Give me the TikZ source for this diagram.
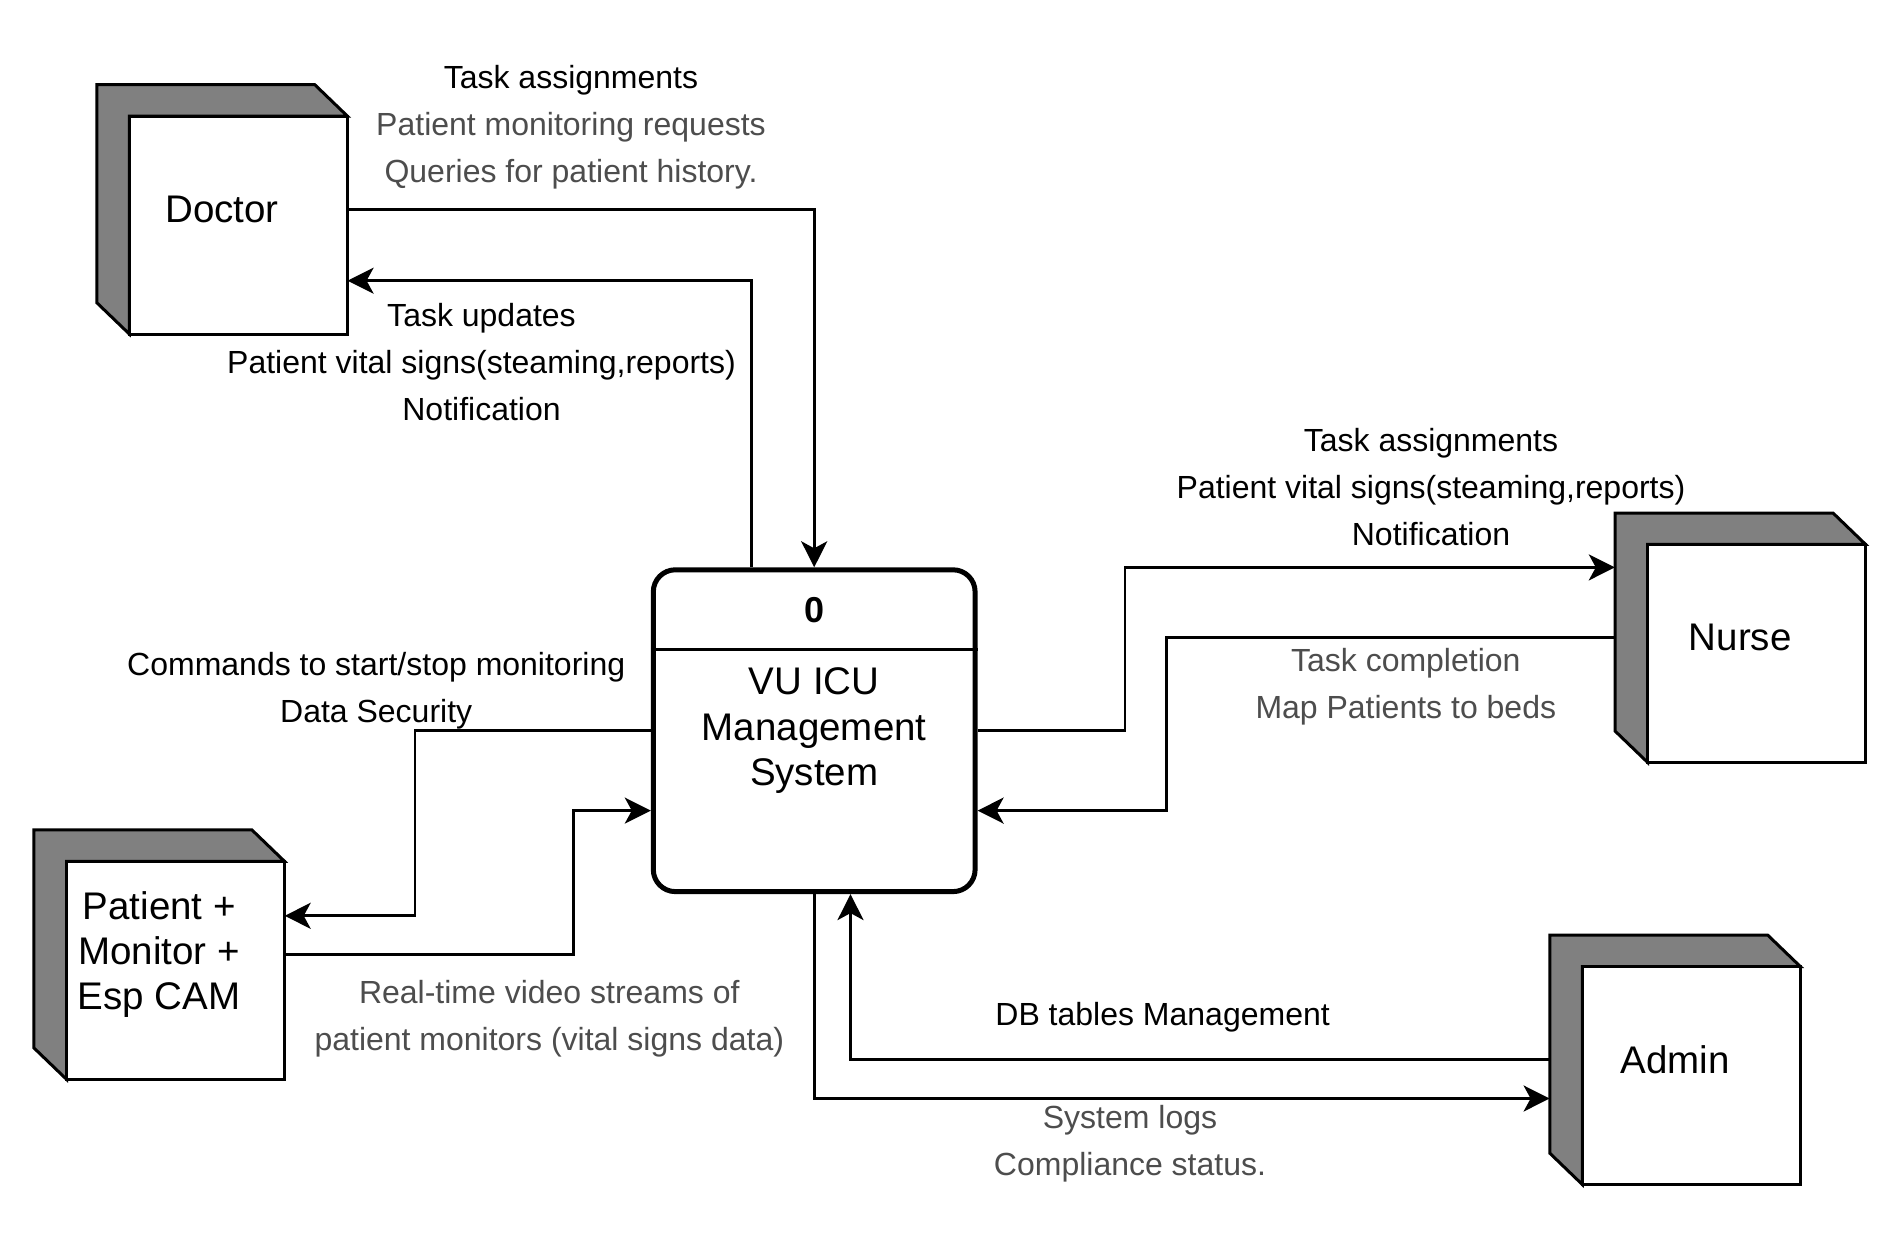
\documentclass[tikz,border=0pt]{standalone}
\usepackage{fontspec}
\setmainfont{Liberation Sans}
\usetikzlibrary{arrows.meta}
\definecolor{txtgray}{HTML}{4D4D4D}
\definecolor{cubegray}{HTML}{808080}
\tikzset{
  cubeside/.style={fill=cubegray, draw=black, line width=3pt, line join=miter},
  cubefront/.style={fill=white, draw=black, line width=3pt},
  entity/.style={rectangle, minimum width=250.6pt, minimum height=249.4pt, inner sep=0pt, align=center, font=\fontsize{38.5}{45}\selectfont},
  procbox/.style={rectangle, rounded corners=22pt, draw=black, line width=5pt, fill=white, minimum width=321.8pt, minimum height=321.8pt, align=center, inner sep=0pt, font=\fontsize{38.5}{45.5}\selectfont},
  flow/.style={draw=black, line width=2.7pt, -{Stealth[length=26pt, width=26pt, inset=7pt]}},
  lbl/.style={align=center, inner sep=0pt, font=\fontsize{32}{47}\selectfont},
}
\newcommand\dfdentity[4]{%
  \coordinate (#1-o) at (#2,#3);
  \filldraw[cubeside] (#1-o) -- ++(218,0) -- ++(32.6,31.4) -- ++(-218,0) -- ++(0,218) -- ++(-32.6,-31.4) -- cycle;
  \draw[cubefront] ([shift={(32.6,31.4)}]#1-o) rectangle ++(218,218);
  \node[entity] (#1) at ([shift={(125.3,124.7)}]#1-o) {#4};
}
\begin{document}
\begin{tikzpicture}[x=1pt, y=-1pt]
\fill[white] (0,0) rectangle (1897,1238);
\useasboundingbox (0,0) rectangle (1897,1238);

% external entities
\dfdentity{doctor}{96.8}{84.7}{Doctor}
\dfdentity{nurse}{1615}{513}{Nurse}
\dfdentity{patient}{33.9}{829.9}{Patient +\\Monitor +\\Esp CAM}
\dfdentity{admin}{1549.8}{935.2}{Admin}

% process
\node[procbox] (sys) at (814.2,730.7) {VU ICU\\Management\\System};
\node[font=\fontsize{36}{40}\selectfont\bfseries, inner sep=0pt] (sysid) at (814.2,610.5) {0};
\draw[line width=2.5pt] (sys.west |- 0,649.7) -- (sys.east |- 0,649.7);

% flows: doctor
\draw[flow] (doctor.east |- 0,209.3) -| (sys.north);
\draw[flow] (sys.north -| 751.3,0) |- (doctor.east |- 0,280.7);
% flows: nurse
\draw[flow] (sys.east |- 0,730.7) -| (1125.1,567.4) -- (nurse.west |- 0,567.4);
\draw[flow] (nurse.west |- 0,637.6) -| (1166.2,810.6) -- (sys.east |- 0,810.6);
% flows: patient
\draw[flow] (sys.west |- 0,730.7) -| (415,915.8) -- (patient.east |- 0,915.8);
\draw[flow] (patient.east |- 0,954.5) -| (573.4,810.6) -- (sys.west |- 0,810.6);
% flows: admin
\draw[flow] (admin.west |- 0,1059.8) -| (sys.south -| 850.5,0);
\draw[flow] (sys.south) |- (admin.west |- 0,1098.5);

% labels
\node[lbl] (l1) at (571,127.5) {Task assignments\\\textcolor{txtgray}{Patient monitoring requests}\\\textcolor{txtgray}{Queries for patient history.}};
\node[lbl] (l2) at (481.5,362.5) {Task updates\\Patient vital signs(steaming,reports)\\Notification};
\node[lbl] (l3) at (1431,487) {Task assignments\\Patient vital signs(steaming,reports)\\Notification};
\node[lbl, text=txtgray] (l4) at (1405.8,687) {Task completion\\Map Patients to beds};
\node[lbl] (l5) at (376.2,690.5) {Commands to start/stop monitoring\\Data Security};
\node[lbl, text=txtgray] (l6) at (549.3,1019) {Real-time video streams of\\patient monitors (vital signs data)};
\node[lbl] (l7) at (1162.6,1017) {DB tables Management};
\node[lbl, text=txtgray] (l8) at (1130,1144) {System logs\\Compliance status.};
\end{tikzpicture}
\end{document}
